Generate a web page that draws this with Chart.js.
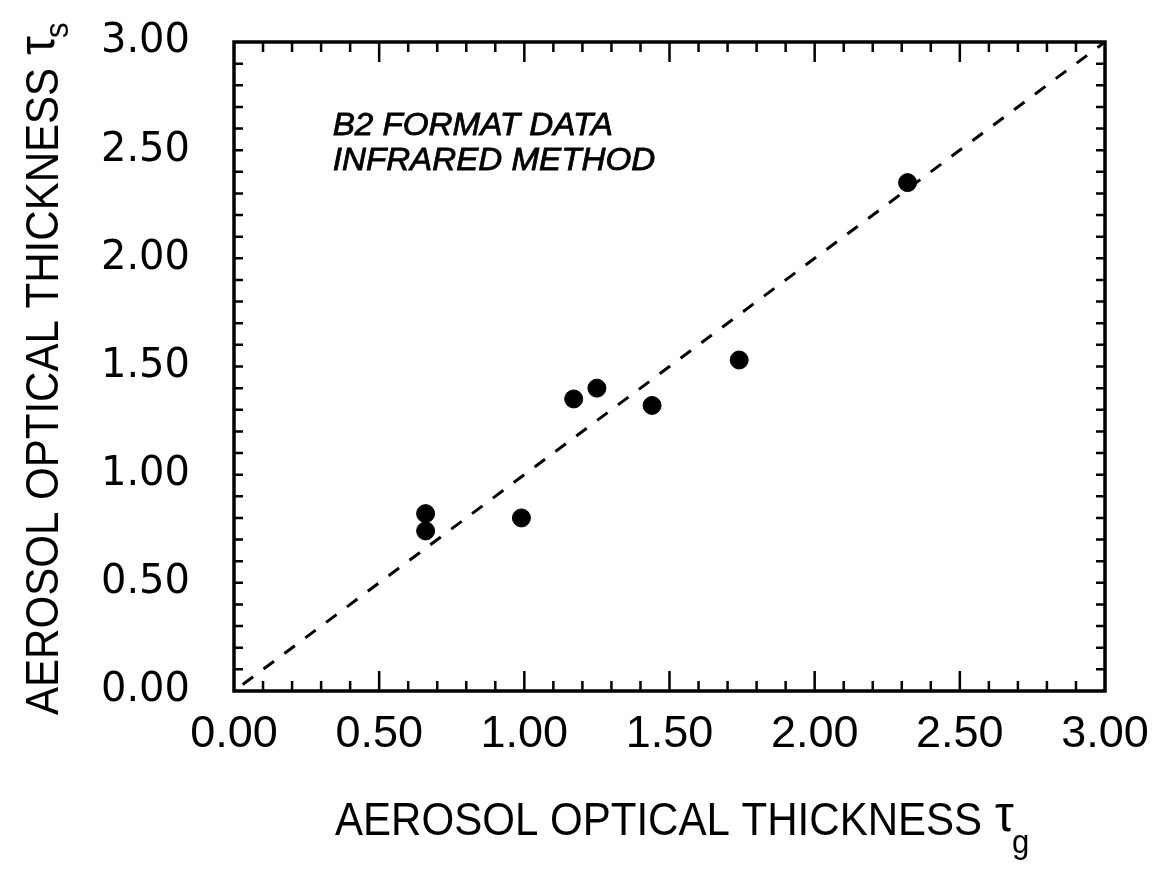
<!DOCTYPE html>
<html>
<head>
<meta charset="utf-8">
<title>Aerosol optical thickness</title>
<script src="https://cdn.jsdelivr.net/npm/chart.js@4"></script>
<style>
  body { margin: 0; background: #fff; }
  canvas { display: block; }
</style>
</head>
<body>
<canvas id="myChart" width="1167" height="871"></canvas>
<script>
// values
const tauG = [0.66, 0.66, 0.99, 1.17, 1.25, 1.44, 1.74, 2.32];   // ground-based
const tauS = [0.82, 0.74, 0.80, 1.35, 1.40, 1.32, 1.53, 2.35];   // satellite
const oneToOne = [0.03, 3.00];                                   // dashed 1:1 line
const axisMin = 0, axisMax = 3, majorStep = 0.5, minorStep = 0.1;
const axisTitle = 'AEROSOL OPTICAL THICKNESS';
const noteLines = ['B2 FORMAT DATA', 'INFRARED METHOD'];

const points = tauG.map((g, i) => ({ x: g, y: tauS[i] }));
const diag = oneToOne.map(v => ({ x: v, y: v }));

// frame, inward ticks, axis titles and the note
const decor = {
    id: 'decor',
    beforeDatasetsDraw(chart) {
        const { ctx, chartArea: a, scales: { x, y } } = chart;
        ctx.save();
        ctx.strokeStyle = '#000';
        ctx.lineWidth = 2.5;
        const n = Math.round((axisMax - axisMin) / minorStep);
        for (let i = 1; i < n; i++) {
            const v = axisMin + i * minorStep;
            const big = i % Math.round(majorStep / minorStep) === 0;
            const lx = big ? 20 : 10;
            const px = x.getPixelForValue(v);
            ctx.beginPath();
            ctx.moveTo(px, a.bottom); ctx.lineTo(px, a.bottom - lx);
            ctx.moveTo(px, a.top); ctx.lineTo(px, a.top + lx);
            const py = y.getPixelForValue(v);
            ctx.moveTo(a.left, py); ctx.lineTo(a.left + 9, py);
            ctx.moveTo(a.right, py); ctx.lineTo(a.right - 9, py);
            ctx.stroke();
        }
        ctx.lineWidth = 3.5;
        ctx.strokeRect(a.left, a.top, a.right - a.left, a.bottom - a.top);
        ctx.restore();
    },
    afterDraw(chart) {
        const { ctx, scales: { x, y } } = chart;
        ctx.save();
        ctx.fillStyle = '#000';
        ctx.textBaseline = 'alphabetic';
        ctx.textAlign = 'left';

        // x title
        ctx.save();
        ctx.translate(335, 835);
        ctx.scale(0.914, 1);
        ctx.font = '46px "Liberation Sans", Arial, sans-serif';
        let w = ctx.measureText(axisTitle).width;
        ctx.fillText(axisTitle, 0, 0);
        ctx.font = '52px "Liberation Sans", Arial, sans-serif';
        ctx.fillText('\u03C4', w + 14, -4);
        let wt = ctx.measureText('\u03C4').width;
        ctx.font = '34px "Liberation Sans", Arial, sans-serif';
        ctx.fillText('g', w + 12 + wt, 18);
        ctx.restore();

        // y title
        ctx.save();
        ctx.translate(58, 715);
        ctx.rotate(-Math.PI / 2);
        ctx.scale(0.914, 1);
        ctx.font = '46px "Liberation Sans", Arial, sans-serif';
        w = ctx.measureText(axisTitle).width;
        ctx.fillText(axisTitle, 0, 0);
        ctx.font = '52px "Liberation Sans", Arial, sans-serif';
        ctx.fillText('\u03C4', w + 14, -4);
        wt = ctx.measureText('\u03C4').width;
        ctx.font = '34px "Liberation Sans", Arial, sans-serif';
        ctx.fillText('s', w + 12 + wt, 10);
        ctx.restore();

        // note in the upper left
        ctx.font = 'italic 31px "Liberation Sans", Arial, sans-serif';
        const nx = x.getPixelForValue(0.34);
        [2.57, 2.41].forEach((v, i) => {
            ctx.save();
            ctx.translate(nx, y.getPixelForValue(v));
            ctx.scale(1.07, 1);
            ctx.lineWidth = 0.8;
            ctx.strokeStyle = '#000';
            ctx.fillText(noteLines[i], 0, 0);
            ctx.strokeText(noteLines[i], 0, 0);
            ctx.restore();
        });
        ctx.restore();
    }
};

var ctx = document.getElementById('myChart').getContext('2d');
const chart = new Chart(ctx, {
    type: 'scatter',
    data: {
        datasets: [
            {
                label: 'data',
                data: points,
                backgroundColor: '#000',
                borderColor: '#000',
                pointRadius: 9,
                pointHoverRadius: 9,
                order: 1
            },
            {
                label: '1:1',
                data: diag,
                showLine: true,
                borderColor: '#000',
                borderWidth: 3,
                borderDash: [13, 13],
                pointRadius: 0,
                fill: false,
                order: 2
            }
        ]
    },
    options: {
        responsive: false,
        animation: false,
        layout: { padding: { top: 42, right: 62, left: 0, bottom: 0 } },
        plugins: { legend: { display: false }, tooltip: { enabled: false } },
        scales: {
            x: {
                type: 'linear',
                min: axisMin, max: axisMax,
                grid: { display: false, drawTicks: false },
                border: { display: false },
                ticks: {
                    stepSize: majorStep,
                    padding: 17,
                    color: '#000',
                    font: { family: '"Liberation Sans", Arial, sans-serif', size: 45 },
                    callback: v => v.toFixed(2),
                    maxRotation: 0
                },
                afterFit: scale => {
                    scale.height = 180;
                    scale.paddingLeft = 0;
                    scale.paddingRight = 0;
                }
            },
            y: {
                type: 'linear',
                min: axisMin, max: axisMax,
                grid: { display: false, drawTicks: false },
                border: { display: false },
                ticks: {
                    stepSize: majorStep,
                    padding: 44,
                    color: '#000',
                    font: { family: '"DejaVu Sans", sans-serif', size: 40 },
                    callback: v => v.toFixed(2)
                },
                afterFit: scale => {
                    scale.width = 234;
                    scale.paddingTop = 0;
                    scale.paddingBottom = 0;
                }
            }
        }
    },
    plugins: [decor]
});
</script>
</body>
</html>
